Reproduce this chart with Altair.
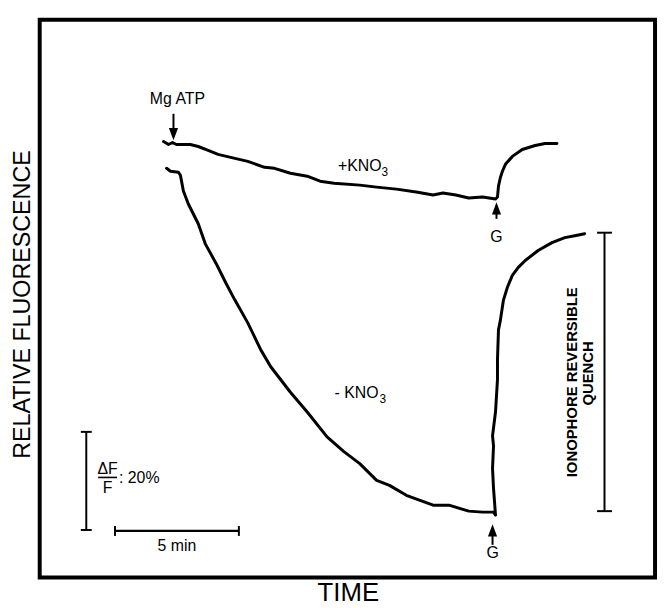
import altair as alt
import pandas as pd

# ---- traces: time (min) and relative fluorescence (%) ----
plus_t = [5.0, 5.2, 5.36, 5.52, 5.72, 6.08, 6.4, 6.8, 7.2, 7.88, 8.4, 9.08, 9.48,
          10.12, 10.8, 11.32, 11.88, 12.92, 13.6, 14.4, 15.2, 15.88, 16.28, 16.8,
          17.32, 17.88, 18.4, 18.48, 18.52, 18.6, 18.68, 18.8, 19.08, 19.48, 20.0,
          20.4, 20.88]
plus_f = [88.0, 87.4, 87.8, 87.4, 87.4, 87.4, 87.0, 86.2, 85.4, 84.6, 84.0, 82.8, 82.6,
          81.6, 81.0, 80.0, 79.6, 79.2, 78.8, 78.4, 77.8, 77.2, 77.6, 77.2,
          76.6, 76.8, 76.4, 76.8, 79.0, 80.8, 82.0, 83.4, 85.0, 86.4, 87.2,
          87.6, 87.6]

minus_t = [5.12, 5.28, 5.6, 5.68, 5.8, 6.0, 6.4, 6.68, 7.12, 7.52, 7.88, 8.4, 8.92,
           9.32, 10.12, 10.8, 11.6, 12.28, 12.92, 13.6, 14.12, 14.8, 15.88, 16.52,
           17.32, 17.88, 18.32, 18.4, 18.32, 18.28, 18.32, 18.28, 18.4, 18.48, 18.48,
           18.52, 18.6, 18.72, 18.88, 19.08, 19.32, 19.6, 20.12, 20.68, 21.2, 21.6, 22.0]
minus_f = [82.6, 82.0, 81.8, 81.2, 78.0, 75.4, 71.4, 67.4, 63.4, 59.4, 56.0, 51.4, 46.0,
           42.6, 37.4, 33.4, 28.4, 25.4, 23.0, 19.6, 18.6, 16.6, 14.6, 14.6,
           13.4, 13.2, 13.2, 12.6, 18.0, 22.0, 26.6, 28.6, 33.4, 40.0, 44.0,
           50.0, 52.0, 56.0, 58.6, 61.0, 62.6, 64.0, 66.0, 67.6, 68.6, 69.0, 69.4]

# ---- annotation items ----
# scale bars and arrow stems: (t, t2, f, f2)
seg_t = [1.88, 1.66, 1.66, 3.04, 3.04, 8.04, 22.8, 22.5, 22.5, 5.4, 18.44, 18.28, 2.36]
seg_t2 = [1.88, 2.10, 2.10, 8.04, 3.04, 8.04, 22.8, 23.1, 23.1, 5.4, 18.44, 18.28, 3.12]
seg_f = [29.4, 29.4, 9.6, 9.4, 10.4, 10.4, 69.6, 69.6, 13.4, 93.6, 74.6, 9.6, 20.2]
seg_f2 = [9.6, 29.4, 9.6, 9.4, 8.4, 8.4, 13.4, 69.6, 13.4, 89.4, 72.4, 6.6, 20.2]
seg_w = [2, 2, 2, 2.2, 2, 2, 2, 2, 2, 2, 2, 2, 1.6]

# arrow heads
head_t = [5.4, 18.44, 18.28]
head_f = [89.5, 74.5, 9.5]
head_dir = ["down", "up", "up"]

# plain labels
lab_text = ["Mg ATP", "+KNO", "3", "- KNO", "3", "G", "G", "ΔF", "F", ": 20%", "5 min"]
lab_t = [5.56, 13.8, 13.8, 13.68, 13.72, 18.44, 18.28, 2.74, 2.74, 3.2, 5.54]
lab_f = [95.6, 82.0, 81.0, 36.2, 35.2, 67.8, 4.0, 20.8, 17.0, 19.0, 5.4]
lab_size = [16, 16, 12, 16, 12, 16, 16, 16, 16, 16, 16]
lab_align = ["center", "right", "left", "right", "left", "center", "center",
             "center", "center", "left", "center"]

# bold rotated label
q_text = ["IONOPHORE REVERSIBLE", "QUENCH"]
q_t = [21.48, 22.14]
q_f = [39.4, 41.2]

XDOM = [0, 24.84]
YDOM = [0, 112.6]

plus = pd.DataFrame({"t": plus_t, "f": plus_f, "i": range(len(plus_t))})
minus = pd.DataFrame({"t": minus_t, "f": minus_f, "i": range(len(minus_t))})
segs = pd.DataFrame({"t": seg_t, "t2": seg_t2, "f": seg_f, "f2": seg_f2, "w": seg_w})
heads = pd.DataFrame({"t": head_t, "f": head_f, "dir": head_dir})
labs = pd.DataFrame({"text": lab_text, "t": lab_t, "f": lab_f, "size": lab_size,
                     "align": lab_align})
quench = pd.DataFrame({"text": q_text, "t": q_t, "f": q_f})

xs = alt.Scale(domain=XDOM, nice=False, zero=False)
ys = alt.Scale(domain=YDOM, nice=False, zero=False)

x_axis = alt.Axis(title="TIME", domain=False, ticks=False, labels=False, grid=False,
                  titleFont="Liberation Sans", titleFontSize=26, titleFontWeight="normal",
                  titleColor="black", titleX=311, titleY=23, titleBaseline="alphabetic",
                  titleAlign="center")
y_axis = alt.Axis(title="RELATIVE FLUORESCENCE", domain=False, ticks=False, labels=False,
                  grid=False, titleFont="Liberation Sans", titleFontSize=23.5,
                  titleFontWeight="normal", titleColor="black", titleX=-17, titleY=287,
                  titleAngle=270, titleBaseline="middle", titleAlign="center")

line_plus = alt.Chart(plus).mark_line(color="black", strokeWidth=3, strokeCap="round",
                                      strokeJoin="round").encode(
    x=alt.X("t:Q", scale=xs, axis=x_axis),
    y=alt.Y("f:Q", scale=ys, axis=y_axis),
    order="i:Q",
)
line_minus = alt.Chart(minus).mark_line(color="black", strokeWidth=3, strokeCap="round",
                                        strokeJoin="round").encode(
    x=alt.X("t:Q", scale=xs), y=alt.Y("f:Q", scale=ys), order="i:Q")

rules = alt.Chart(segs).mark_rule(color="black").encode(
    x=alt.X("t:Q", scale=xs), x2="t2:Q",
    y=alt.Y("f:Q", scale=ys), y2="f2:Q",
    strokeWidth=alt.StrokeWidth("w:Q", scale=None),
)

down_path = "M -0.45 -0.6 L 0.45 -0.6 L 0 0.6 Z"
up_path = "M -0.45 0.6 L 0.45 0.6 L 0 -0.6 Z"
head_down = alt.Chart(heads).transform_filter(alt.datum.dir == "down").mark_point(
    shape=down_path, filled=True, color="black", size=420, opacity=1).encode(
    x=alt.X("t:Q", scale=xs), y=alt.Y("f:Q", scale=ys))
head_up = alt.Chart(heads).transform_filter(alt.datum.dir == "up").mark_point(
    shape=up_path, filled=True, color="black", size=420, opacity=1).encode(
    x=alt.X("t:Q", scale=xs), y=alt.Y("f:Q", scale=ys))

def label_layer(al):
    return alt.Chart(labs).transform_filter(alt.datum.align == al).mark_text(
        font="Liberation Sans", color="black", align=al, baseline="alphabetic").encode(
        x=alt.X("t:Q", scale=xs), y=alt.Y("f:Q", scale=ys),
        text="text:N", size=alt.Size("size:Q", scale=None))

q_layer = alt.Chart(quench).mark_text(
    font="Liberation Sans", fontWeight="bold", fontSize=15,
    color="black", angle=270, align="center", baseline="middle").encode(
    x=alt.X("t:Q", scale=xs), y=alt.Y("f:Q", scale=ys), text="text:N")

chart = alt.layer(
    line_plus, line_minus, rules, head_down, head_up,
    label_layer("center"), label_layer("left"), label_layer("right"), q_layer,
).properties(
    width=621, height=563,
    autosize=alt.AutoSizeParams(type="none"),
    padding={"left": 32, "top": 9, "right": 4, "bottom": 30},
    background="white",
).configure_view(stroke="black", strokeWidth=4)

chart.save("out.html", embed_options={"renderer": "svg", "actions": False})
